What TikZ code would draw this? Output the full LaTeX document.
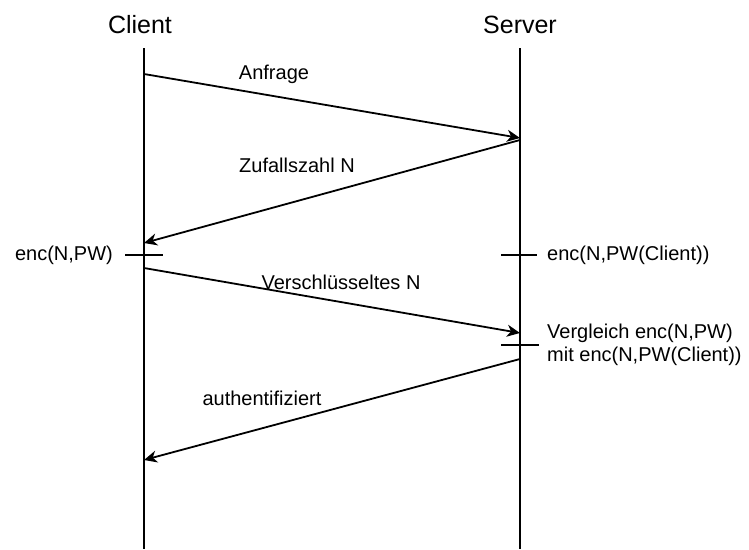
\documentclass[tikz,border=0pt]{standalone}
\usepackage{fontspec}
\setmainfont{Liberation Sans}
\usetikzlibrary{arrows.meta}
\begin{document}
\begin{tikzpicture}[x=1pt,y=-1pt,
  lifeline/.style={line width=1.8pt},
  msg/.style={line width=1.8pt,-{Stealth[length=13pt,width=12pt,inset=4pt]}},
  tick/.style={line width=1.8pt},
  title/.style={font=\fontsize{25}{30}\selectfont,inner sep=0pt},
  lbl/.style={font=\fontsize{20}{23}\selectfont,inner sep=0pt}]
\useasboundingbox (0,0) rectangle (749,549);

% participants
\node[title] (client) at (140,25) {Client};
\node[title] (server) at (520,25) {Server};
\coordinate (ctop) at (144,48);
\coordinate (cbot) at (144,549);
\coordinate (stop) at (520,48);
\coordinate (sbot) at (520,549);
\draw[lifeline] (ctop) -- (cbot);
\draw[lifeline] (stop) -- (sbot);

% message end points on the lifelines
\coordinate (c1) at (144,74);
\coordinate (s1) at (520,138);
\coordinate (s2) at (520,140);
\coordinate (c2) at (144,243);
\coordinate (c3) at (144,268);
\coordinate (s3) at (520,333);
\coordinate (s4) at (520,359);
\coordinate (c4) at (144,460);

% messages
\draw[msg] (c1) -- (s1);
\draw[msg] (s2) -- (c2);
\draw[msg] (c3) -- (s3);
\draw[msg] (s4) -- (c4);

\node[lbl] (anfrage) at (274,74) {Anfrage};
\node[lbl] (zufall) at (297,165) {Zufallszahl N};
\node[lbl] (versch) at (341,282) {Verschlüsseltes N};
\node[lbl] (auth) at (262,398) {authentifiziert};

% local computations
\coordinate (ct1) at (125,255);
\coordinate (ct2) at (163,255);
\coordinate (st1) at (501,255);
\coordinate (st2) at (537,255);
\coordinate (st3) at (501,345);
\coordinate (st4) at (539,345);
\draw[tick] (ct1) -- (ct2);
\draw[tick] (st1) -- (st2);
\draw[tick] (st3) -- (st4);

\node[lbl,anchor=east] (encc) at (113,255) {enc(N,PW)};
\node[lbl,anchor=west] (encs) at (547,255) {enc(N,PW(Client))};
\node[lbl,anchor=west,align=left] (cmp) at (547,345) {Vergleich enc(N,PW)\\mit enc(N,PW(Client))};
\end{tikzpicture}
\end{document}
